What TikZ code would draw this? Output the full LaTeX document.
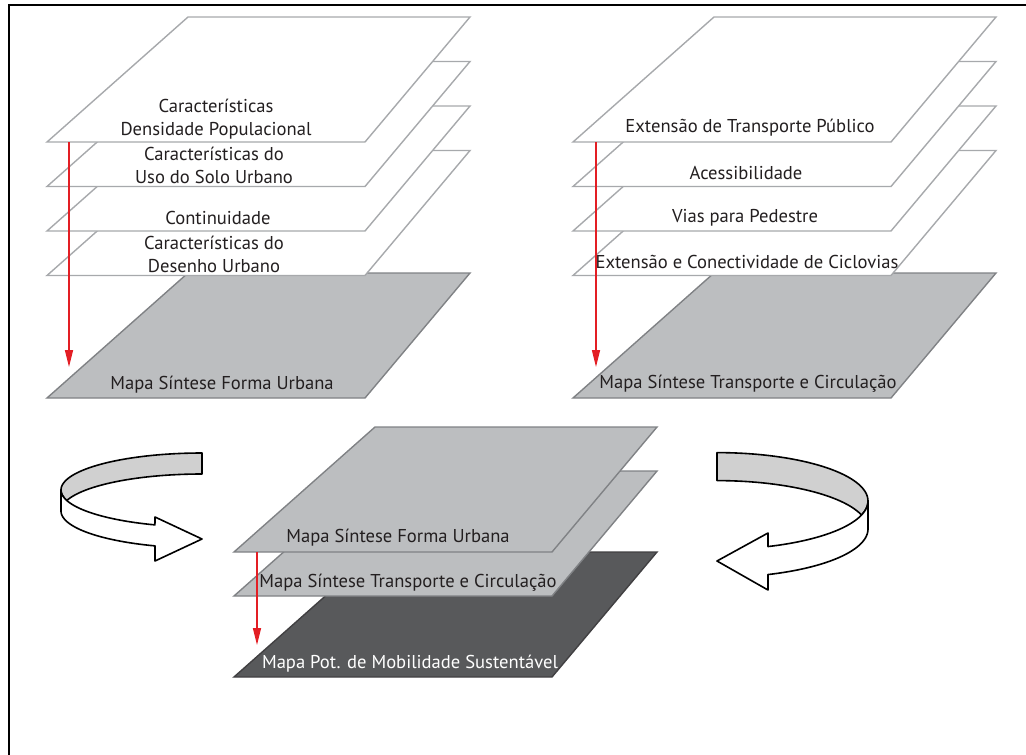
\documentclass[tikz,border=0pt]{standalone}
\usepackage{fontspec}
\setmainfont{PT Sans}
\usetikzlibrary{arrows.meta}

\definecolor{txt}{HTML}{231F20}
\definecolor{whiteedge}{HTML}{A7A9AC}
\definecolor{greyfill}{HTML}{BCBEC0}
\definecolor{greyedge}{HTML}{808285}
\definecolor{darkfill}{HTML}{58595B}
\definecolor{darkedge}{HTML}{414042}
\definecolor{bandfill}{HTML}{D0D0D0}
\definecolor{flowred}{HTML}{E31E24}

\tikzset{
  whitelayer/.style={fill=white, draw=whiteedge, line width=1.4pt, line join=miter},
  greylayer/.style={fill=greyfill, draw=greyedge, line width=1.4pt, line join=miter},
  darklayer/.style={fill=darkfill, draw=darkedge, line width=1.4pt, line join=miter},
  label/.style={text=txt, font=\fontsize{18.6}{23}\selectfont, align=center, inner sep=0pt},
  darklabel/.style={label, text=white},
  flow/.style={draw=flowred, line width=1.3pt, -{Triangle[length=17pt,width=8pt]}},
  ribbon/.style={draw=black, line width=1.6pt, line join=round},
}

% one layer of a stack: bottom-left corner (#1,#2), style #3
\newcommand\layer[3]{%
  \path[#3] (#1,#2) -- ++(318,0) -- ++(105,-125) -- ++(-282,0) -- cycle;}

\begin{document}
\begin{tikzpicture}[x=1pt,y=-1pt]
\useasboundingbox (0,0) rectangle (1026,755);
\begin{scope}
\clip (0,0) rectangle (1026,755);
\draw[line width=2pt] (9,5) rectangle (1040,775);
\end{scope}

% ---------- left stack: urban form ----------
\layer{47}{398}{greylayer}
\node[label] (fu) at (222,385) {Mapa Síntese Forma Urbana};
\layer{47}{275.5}{whitelayer}
\node[label] (du) at (214,254.5) {Características do\\Desenho Urbano};
\layer{47}{231}{whitelayer}
\node[label] (co) at (218,218) {Continuidade};
\layer{47}{186.5}{whitelayer}
\node[label] (us) at (214,165.5) {Características do\\Uso do Solo Urbano};
\layer{47}{142}{whitelayer}
\node[label] (dp) at (216,119.5) {Características\\Densidade Populacional};
\coordinate (l0) at (69,142);
\coordinate (l1) at (69,367);
\draw[flow] (l0) -- (l1);

% ---------- right stack: transport ----------
\layer{573}{398}{greylayer}
\node[label] (tc) at (748,384) {Mapa Síntese Transporte e Circulação};
\layer{573}{275.5}{whitelayer}
\node[label] (ci) at (747,262) {Extensão e Conectividade de Ciclovias};
\layer{573}{231}{whitelayer}
\node[label] (vp) at (745,218) {Vias para Pedestre};
\layer{573}{186.5}{whitelayer}
\node[label] (ac) at (746,173) {Acessibilidade};
\layer{573}{142}{whitelayer}
\node[label] (tp) at (750,128) {Extensão de Transporte Público};
\coordinate (r0) at (596,142);
\coordinate (r1) at (596,367);
\draw[flow] (r0) -- (r1);

% ---------- bottom stack: synthesis ----------
\layer{234}{677}{darklayer}
\node[darklabel] (ms) at (410,664) {Mapa Pot. de Mobilidade Sustentável};
\layer{234}{596}{greylayer}
\node[label] (tc2) at (408,583) {Mapa Síntese Transporte e Circulação};
\layer{234}{552}{greylayer}
\node[label] (fu2) at (398,538) {Mapa Síntese Forma Urbana};
\coordinate (b0) at (257,552);
\coordinate (b1) at (257,645);
\draw[flow] (b0) -- (b1);

% ---------- left turning ribbon arrow ----------
% inner (back) face
\path[ribbon, fill=bandfill]
  plot[domain=270:180, samples=40] ({202+141*cos(\x)},{490+37*sin(\x)})
  -- plot[domain=180:163.5, samples=8] ({202+141*cos(\x)},{490+37*sin(\x)})
  -- plot[domain=196.5:270, samples=30] ({202+141*cos(\x)},{511+37*sin(\x)})
  -- cycle;
% outer (front) face with the head
\path[ribbon, fill=white]
  plot[domain=180:109.5, samples=40] ({202+141*cos(\x)},{490+37*sin(\x)})
  -- (155,517) -- (202,539) -- (155,561) -- (155,545.9)
  -- plot[domain=109.5:180, samples=40] ({202+141*cos(\x)},{511+37*sin(\x)})
  -- cycle;

% ---------- right turning ribbon arrow ----------
\path[ribbon, fill=bandfill]
  plot[domain=270:180, samples=40] ({717-151*cos(\x)},{501+48.4*sin(\x)})
  -- plot[domain=180:163.2, samples=8] ({717-151*cos(\x)},{501+48.4*sin(\x)})
  -- plot[domain=196.8:270, samples=30] ({717-151*cos(\x)},{529+48.4*sin(\x)})
  -- cycle;
\path[ribbon, fill=white]
  plot[domain=180:109.75, samples=40] ({717-151*cos(\x)},{501+48.4*sin(\x)})
  -- (768,533) -- (717,561) -- (768,590) -- (768,574.5)
  -- plot[domain=109.75:180, samples=40] ({717-151*cos(\x)},{529+48.4*sin(\x)})
  -- cycle;
\end{tikzpicture}
\end{document}
